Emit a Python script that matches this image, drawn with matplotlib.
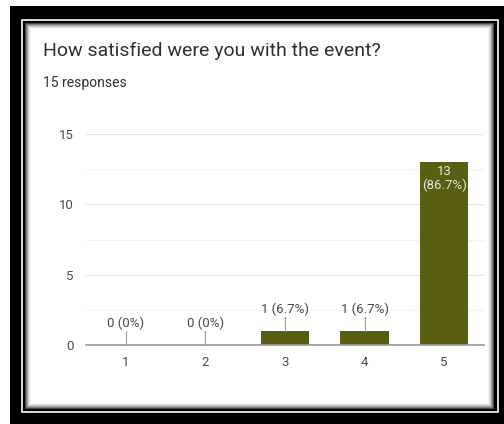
import matplotlib.pyplot as plt
from matplotlib.patches import Rectangle

# chart data
ratings = ["1", "2", "3", "4", "5"]
counts = [0, 0, 1, 1, 13]
percents = ["0%", "0%", "6.7%", "6.7%", "86.7%"]
total_responses = 15
title = "How satisfied were you with the event?"

bar_color = "#5a5e12"
plt.rcParams['font.family'] = ['Roboto', 'DejaVu Sans']

W, H = 504, 424
fig = plt.figure(figsize=(W / 100, H / 100), dpi=100)
fig.patch.set_facecolor("white")


def px_rect(x0, y0, x1, y1, **kw):
    # rectangle in pixel coords measured from the top-left corner
    r = Rectangle((x0 / W, 1 - y1 / H), (x1 - x0) / W, (y1 - y0) / H,
                  transform=fig.transFigure, **kw)
    fig.patches.append(r)


# black frame, thin white line and the shaded card
px_rect(10, 6, 504, 424, facecolor="black", edgecolor="none", zorder=0)
px_rect(22, 20, 498, 412, facecolor="none", edgecolor="white", linewidth=1.2, zorder=1)
shades = ["#4a4a4a", "#7a7a7a", "#a5a5a5", "#c8c8c8", "#e2e2e2", "#f3f3f3"]
for i, c in enumerate(shades):
    px_rect(25 + i, 23 + i, 494 - i, 409 - i, facecolor=c, edgecolor="none", zorder=1)
px_rect(31, 29, 488, 403, facecolor="white", edgecolor="none", zorder=1)

fig.text(43 / W, 1 - 51 / H, title, fontsize=14, color="#303030",
         va="center", ha="left", zorder=3)
fig.text(43 / W, 1 - 83 / H, f"{total_responses} responses", fontsize=10,
         color="#303030", va="center", ha="left", zorder=3)

ax = fig.add_axes([86 / W, 79 / H, 398 / W, 211 / H], zorder=2)
ax.patch.set_alpha(0)
x = list(range(len(ratings)))
ax.bar(x, counts, width=0.61, color=bar_color, zorder=3)

ax.set_xlim(-0.5, len(ratings) - 0.5)
ax.set_ylim(0, 15)
ax.set_yticks([0, 5, 10, 15])
ax.set_yticks([2.5, 7.5, 12.5], minor=True)
ax.set_xticks(x)
ax.set_xticklabels(ratings)
ax.grid(axis="y", which="major", color="#e3e3e3", linewidth=0.8, zorder=0)
ax.grid(axis="y", which="minor", color="#f2f2f2", linewidth=0.8, zorder=0)
for s in ["left", "right", "top"]:
    ax.spines[s].set_visible(False)
ax.spines["bottom"].set_color("#9a9a9a")
ax.spines["bottom"].set_linewidth(1.2)
ax.spines["bottom"].set_zorder(4)
ax.tick_params(axis="both", which="both", length=0, labelsize=9.5, colors="#4a4a4a")
ax.tick_params(axis="y", pad=9)
ax.tick_params(axis="x", pad=8)

# value labels with small leader lines
for xi, c, p in zip(x, counts, percents):
    if c >= 5:
        ax.text(xi, c - 0.2, f"{c}\n({p})", ha="center", va="top",
                fontsize=9.5, color="#e8e8d8", linespacing=1.05, zorder=5)
    else:
        ax.plot([xi, xi], [c, c + 1.0], color="#9a9a9a", linewidth=0.8, zorder=4)
        ax.text(xi, c + 1.05, f"{c} ({p})", ha="center", va="bottom",
                fontsize=9.5, color="#4a4a4a", zorder=5)

fig.savefig("out.png", dpi=100)
